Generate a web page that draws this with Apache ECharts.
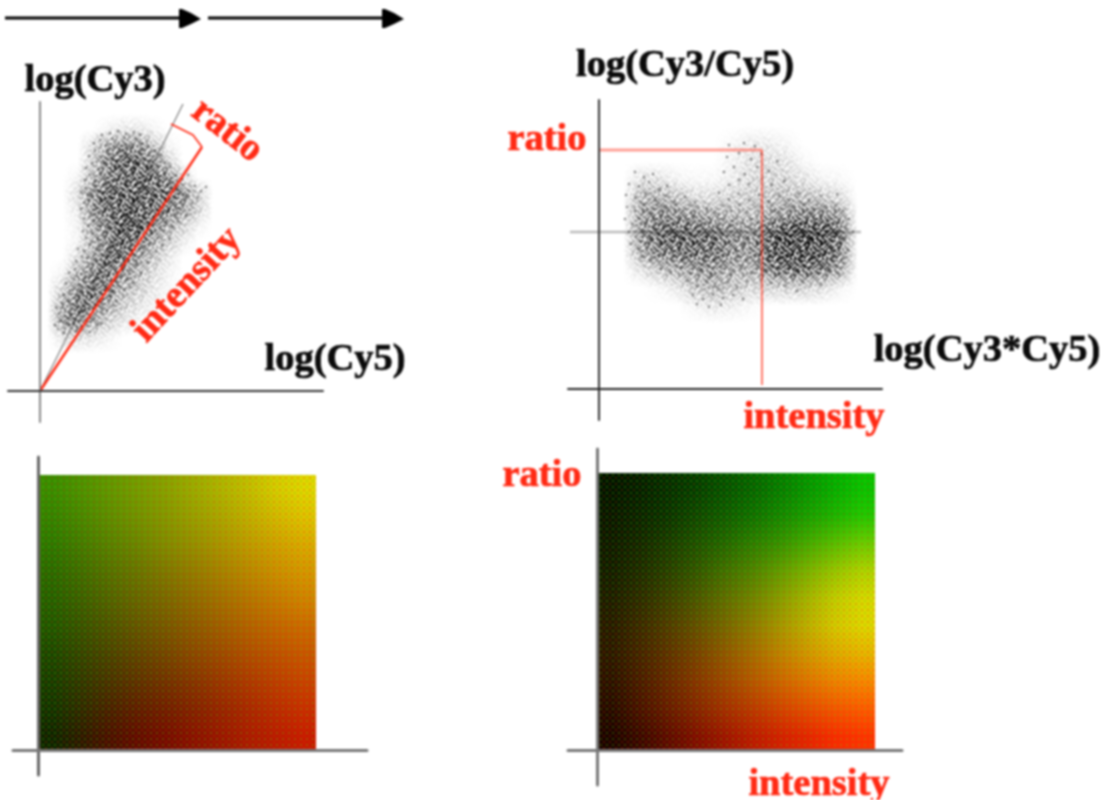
<!DOCTYPE html>
<html><head><meta charset="utf-8">
<style>html,body{margin:0;background:#fff}#c{width:1105px;height:800px;filter:blur(.8px)}</style>
<script src="https://cdn.jsdelivr.net/npm/echarts@6/dist/echarts.min.js"></script></head><body><div id="c"></div>
<script>
const cy5Cy3Cloud=[[18,62],[24,58],[30,66],[36,60],[42,64],[50,59],[57,66],[21,70],[28,72],[34,68],[40,74],[47,70],[54,72],[62,68],[15,66],[19,78],[25,82],[31,76],[37,84],[43,79],[49,86],[55,77],[61,83],[67,80],[73,86],[22,88],[28,90],[34,86],[40,92],[46,88],[52,94],[58,90],[64,92],[70,95],[76,90],[16,84],[24,96],[30,100],[36,97],[42,103],[48,98],[54,105],[60,99],[66,104],[72,100],[78,106],[84,101],[90,104],[26,108],[33,112],[39,106],[45,113],[51,109],[57,114],[63,110],[69,116],[75,111],[81,115],[87,112],[93,108],[29,118],[35,122],[41,117],[47,124],[53,119],[59,126],[65,120],[71,125],[77,118],[83,123],[89,120],[95,126],[101,118],[36,130],[42,134],[48,128],[54,136],[60,131],[66,137],[72,129],[78,135],[84,130],[90,136],[96,131],[102,137],[108,128],[44,140],[50,146],[56,141],[62,147],[68,139],[74,145],[80,140],[86,147],[92,141],[98,146],[104,142],[110,148],[116,140],[122,146],[38,142],[46,153],[52,158],[58,152],[64,159],[70,151],[76,157],[82,150],[88,158],[94,153],[100,159],[106,152],[112,157],[118,153],[124,159],[130,152],[43,160],[48,165],[54,170],[60,164],[66,171],[72,163],[78,169],[84,162],[90,170],[96,164],[102,171],[108,165],[114,170],[120,164],[126,169],[132,165],[138,170],[44,172],[50,178],[56,182],[62,176],[68,183],[74,175],[80,181],[86,174],[92,182],[98,176],[104,183],[110,177],[116,182],[122,176],[128,181],[134,177],[140,182],[146,176],[41,182],[44,188],[49,191],[54,186],[59,193],[64,187],[69,194],[74,188],[79,195],[84,186],[89,193],[94,187],[99,194],[104,189],[110,193],[116,188],[122,194],[128,189],[134,194],[140,188],[146,193],[152,188],[158,194],[41,199],[46,203],[51,198],[56,205],[61,200],[66,206],[71,199],[76,204],[81,198],[86,206],[91,200],[96,205],[101,199],[107,204],[113,200],[119,206],[125,199],[131,204],[137,201],[143,206],[149,200],[155,205],[161,200],[166,204],[45,211],[50,216],[55,210],[60,217],[65,212],[70,218],[75,211],[80,216],[85,210],[90,217],[95,212],[100,218],[106,211],[112,216],[118,212],[124,217],[130,211],[136,216],[142,212],[148,216],[46,223],[52,228],[58,222],[64,229],[70,223],[76,230],[82,222],[88,228],[94,223],[100,229],[106,224],[112,229],[118,223],[124,228],[130,224],[49,235],[55,240],[61,234],[67,241],[73,235],[79,242],[85,234],[91,240],[97,235],[103,241],[109,235],[115,240],[121,236],[54,248],[60,251],[66,246],[72,252],[78,247],[84,253],[90,246],[96,252],[102,248],[108,245],[70,258],[78,260],[86,257],[94,259],[100,256],[62,256],
[30,74],[38,80],[45,83],[33,93],[43,96],[55,101],[38,114],[50,115],[61,118],[48,133],[57,129],[68,126],[75,132],[53,149],[60,144],[71,148],[79,153],[90,150],[58,166],[68,167],[76,172],[88,166],[99,168],[60,190],[66,181],[72,192],[81,189],[91,184],[48,196],[54,201],[63,198],[70,204],[83,202],[94,197],[103,203],[110,186],[120,183],[64,215],[72,220],[82,212],[92,221],[103,214],[115,214],[127,205],[142,196],[67,232],[76,226],[86,238],[96,230],[108,226],[74,244],[86,245],[80,225],[90,208],[98,190],[62,155],[74,160],[84,144],[70,110],[56,86],[25,75]];
const cloudLeftDensityColumns=[7.5,22.5,37.5,52.5,67.5,82.5,97.5,112.5,127.5,142.5,157.5,172.5];
const cloudLeftDensityRows=[278,262,246,230,214,198,182,166,150,134,118,102,86,70,54,38];
const cloudLeftDensity=[[0,0,0,0,0,0,0,0,0,0,0,0],[0,0,0,0,5,10,10,5,0,0,0,0],[0,0,0,15,35,45,45,25,5,0,0,0],[0,0,0,20,50,65,60,50,20,0,0,0],[0,0,5,30,50,60,60,60,50,15,0,0],[0,0,15,45,65,60,65,60,60,45,20,0],[0,0,10,45,60,65,65,60,55,40,20,0],[0,0,5,35,50,70,70,50,35,20,5,0],[0,0,5,30,50,65,55,35,22,8,0,0],[0,0,15,35,60,60,40,25,10,0,0,0],[0,5,30,50,55,45,30,15,5,0,0,0],[0,20,45,55,50,30,20,10,3,0,0,0],[0,35,55,50,35,22,12,5,0,0,0,0],[0,40,50,35,20,10,3,0,0,0,0,0],[0,10,15,10,5,0,0,0,0,0,0,0],[0,0,0,0,0,0,0,0,0,0,0,0]];
const ratioAxisLine=[[0,0],[143,287]];
const intensityLine=[[0,0],[162,244]];
const ratioBracket=[[131,267],[153,256],[162,244]];
const cy5AxisRange=[-32,283],cy3AxisRange=[-31,289];

const intensityRatioCloud=[[36,217],[45,212],[54,215],[30,205],[40,203],[50,207],[60,200],[68,203],[27,194],[36,191],[46,196],[56,189],[66,193],[76,188],[86,192],[96,187],[120,196],[130,190],[140,195],[150,189],[160,194],[170,188],[180,193],[190,189],[200,195],[210,188],[222,193],[238,195],[130,204],[140,209],[150,205],[163,210],[173,204],[185,208],[125,217],[135,222],[146,215],[158,222],[170,218],[128,232],[140,236],[152,230],[162,235],[178,228],[130,244],[145,246],[156,243],[28,182],[36,178],[44,184],[52,176],[60,182],[68,177],[76,184],[84,178],[92,183],[100,176],[108,181],[116,177],[124,183],[132,178],[140,184],[148,177],[156,182],[164,176],[172,183],[180,177],[188,182],[196,178],[204,184],[212,176],[220,181],[228,177],[236,183],[244,178],[26,170],[33,165],[40,171],[47,164],[54,170],[61,165],[68,172],[75,164],[82,170],[89,165],[96,172],[103,166],[110,171],[117,165],[124,170],[131,164],[138,172],[145,165],[152,170],[159,166],[166,172],[173,165],[180,170],[187,164],[194,171],[201,165],[208,172],[215,166],[222,170],[229,165],[236,172],[243,166],[250,170],[30,157],[37,152],[44,158],[51,153],[58,159],[65,152],[72,158],[79,153],[86,159],[93,152],[100,157],[107,153],[114,159],[121,152],[128,157],[135,153],[142,159],[149,152],[156,158],[163,153],[170,159],[177,152],[184,157],[191,153],[198,159],[205,152],[212,157],[219,153],[226,158],[233,153],[240,159],[247,152],[254,157],[32,145],[39,140],[46,146],[53,139],[60,145],[67,140],[74,146],[81,139],[88,144],[95,140],[102,146],[109,139],[116,145],[123,140],[130,146],[137,139],[144,144],[151,140],[158,146],[165,139],[172,145],[179,140],[186,146],[193,139],[200,144],[207,140],[214,146],[221,139],[228,145],[235,140],[242,146],[249,139],[44,132],[52,128],[60,134],[68,127],[76,133],[84,128],[92,134],[100,126],[108,132],[116,128],[124,134],[132,127],[140,132],[148,128],[156,134],[164,126],[172,132],[180,127],[188,134],[196,128],[204,132],[212,126],[220,133],[228,128],[236,132],[244,126],[62,120],[72,116],[82,122],[92,115],[102,120],[112,116],[122,122],[132,115],[142,120],[152,116],[170,120],[180,115],[190,121],[200,116],[210,120],[220,115],[230,121],[238,116],[88,108],[98,103],[108,108],[118,102],[128,107],[138,102],[148,108],[172,106],[186,103],[204,108],[222,104],[198,98],[94,94],[104,90],[114,95],[124,91],[134,94],[144,90],[110,82],[122,84],[98,85],
[120,175],[112,160],[90,167],[76,150],[64,164],[52,148],[100,145],[86,135],[70,155],[140,150],[148,162],[172,170],[178,158],[186,148],[195,166],[204,158],[210,148],[218,166],[224,150],[232,142],[176,136],[190,132],[202,127],[214,134],[226,124],[165,150],[168,162],[200,175],[215,178],[228,170],[238,156],[180,120],[192,112],[206,122],[160,128],[92,176],[80,172],[70,180],[108,150],[122,158],[134,168],[184,142],[196,152],[208,165],[220,142],[228,136],[175,178],[198,124],[150,146],[60,150],[42,147],[118,140],[126,128],[104,125],[144,124],[110,112],[120,100]];
const cloudRightDensityColumns=[24,42,60,78,96,114,132,150,168,186,204,222,240,258];
const cloudRightDensityRows=[264,246,228,210,192,174,156,138,120,102,84,66];
const cloudRightDensity=[[0,0,0,0,0,0,0,0,0,0,0,0,0,0],[0,0,0,0,0,0,3,8,8,4,0,0,0,0],[0,0,0,0,0,0,5,12,15,12,3,0,0,0],[0,12,12,5,3,3,8,15,18,18,12,5,3,0],[0,32,32,25,15,15,18,20,25,28,28,22,15,0],[0,42,50,45,42,35,30,28,35,45,50,50,42,0],[0,42,60,65,62,58,48,42,60,78,80,78,60,0],[0,38,55,60,62,58,48,42,65,80,80,72,55,0],[0,12,25,35,42,45,35,32,52,60,62,55,40,0],[0,0,3,10,25,30,25,18,18,20,20,15,5,0],[0,0,0,0,5,10,8,3,0,0,0,0,0,0],[0,0,0,0,0,0,0,0,0,0,0,0,0,0]];
const ratioGuide=[[-29,157],[262,157]];
const ratioMarkerHorizontal=[[1,239],[163,239]];
const intensityMarkerVertical=[[163,239],[163,4]];
const intensityAxisRange=[-31,283],logRatioAxisRange=[-31,289];

const bottomRowsLeftRed=[[55,75,95,115,135,155,175,195,215,225],[50,70,92,112,132,152,172,192,212,225],[42,65,85,105,128,148,170,190,208,220],[40,60,82,102,125,146,166,186,204,215],[35,56,78,100,120,142,162,182,198,210],[30,52,74,96,116,138,158,178,195,205],[25,48,70,92,112,135,155,175,190,200],[20,44,68,90,110,130,152,172,188,200],[15,42,68,92,110,128,148,168,186,200],[12,40,70,95,115,135,152,170,185,200]];
const bottomRowsLeftGreen=[[140,145,150,155,160,170,180,190,205,215],[130,135,140,145,150,158,165,175,185,195],[120,122,128,132,138,142,148,155,162,170],[105,108,112,115,118,122,128,135,142,150],[95,95,98,100,102,105,110,115,122,130],[85,82,82,84,86,88,92,96,100,105],[70,68,66,66,68,70,72,76,80,85],[60,55,50,48,48,50,52,55,60,65],[50,42,32,28,28,32,35,38,42,45],[35,25,15,10,10,15,20,25,25,25]];
const bottomRowsRightRed=[[0,0,0,0,0,0,0,0,0,5],[5,5,5,10,10,10,15,20,25,30],[10,15,20,25,30,40,50,65,85,105],[15,25,35,45,60,75,95,120,150,175],[25,40,55,70,90,110,135,165,195,215],[35,55,75,95,115,140,165,190,215,225],[40,65,90,115,140,165,190,210,225,235],[40,70,100,130,155,180,205,225,240,250],[35,70,100,130,160,185,210,230,245,255],[25,55,90,125,155,185,210,230,250,255]];
const bottomRowsRightGreen=[[20,30,45,60,80,100,125,150,175,195],[22,35,50,70,90,112,135,158,180,200],[25,38,58,80,102,125,145,170,190,205],[28,42,62,85,110,130,155,178,198,212],[28,42,62,85,108,130,155,180,205,218],[25,40,58,78,100,122,148,175,200,215],[22,34,48,65,85,105,128,150,170,180],[15,25,38,52,68,85,100,115,130,135],[8,15,25,35,45,55,65,75,85,90],[2,5,8,12,18,25,30,35,42,50]];
const leftFieldSize=[278,275],rightFieldSize=[278,277];
const arrowShafts=[[5,18,182],[208,18,385]];
const grainTile=["0728419360571824","5193062847139506","8405716293048271","2961384057926143","7036291845063819","1584970326718452","9273506148392067","4610827593140785","3857142069653921","6092738415207148","1748360952871036","8325917046395682","0469285731604917","7513046982751340","2986153470268195","5140679328419763"];

const RED='#ff2a14',BLACK='#0a0a0a';
const chart=echarts.init(document.getElementById('c'),null,{renderer:'canvas'});
const dither=document.createElement('canvas');dither.width=dither.height=6;
(()=>{const g=dither.getContext('2d');
 g.fillStyle='rgba(110,190,0,.34)';g.fillRect(0,0,2,2);
 g.fillStyle='rgba(210,60,0,.30)';g.fillRect(3,3,2,2);})();
function tableImage(rows,cols,pick){
  const c=document.createElement('canvas');c.width=cols;c.height=rows;
  const g=c.getContext('2d'),d=g.createImageData(cols,rows);
  for(let i=0;i<rows;i++)for(let j=0;j<cols;j++){const v=pick(i,j),k=(i*cols+j)*4;d.data[k]=v[0];d.data[k+1]=v[1];d.data[k+2]=v[2];d.data[k+3]=v[3];}
  g.putImageData(d,0,0);return c;
}
function grainImage(small,w,h){
  const c=document.createElement('canvas');c.width=Math.round(w);c.height=Math.round(h);
  const g=c.getContext('2d');g.imageSmoothingEnabled=true;g.drawImage(small,0,0,c.width,c.height);
  const d=g.getImageData(0,0,c.width,c.height);
  for(let y=0;y<c.height;y++)for(let x=0;x<c.width;x++){
    const tx=((x>>1)+Math.floor(y/32)*7)%16,ty=(y>>1)%16;
    const k=(y*c.width+x)*4;d.data[k+3]=Math.min(255,d.data[k+3]*(+grainTile[ty][tx])/5.4);
  }
  g.putImageData(d,0,0);return c;
}
function cellRect(x0,y0,x1,y1,api){const a=api.coord([x0,y1]),b=api.coord([x1,y0]);return {x:a[0],y:a[1],width:b[0]-a[0],height:b[1]-a[1]}}
function fieldSeries(idx,reds,greens,size){
  const img=tableImage(reds.length,reds[0].length,(i,j)=>[reds[i][j],greens[i][j],0,255]);
  return {type:'custom',xAxisIndex:idx,yAxisIndex:idx,silent:true,clip:false,z:1,data:[[0,0]],
    renderItem(p,api){const s=cellRect(0,0,size[0],size[1],api);
      return {type:'group',children:[{type:'image',style:{image:img,x:s.x,y:s.y,width:s.width,height:s.height}},
        {type:'rect',shape:s,style:{fill:{image:dither,repeat:'repeat'}}}]}}};
}
function densitySeries(idx,cols,rows,table){
  const small=tableImage(rows.length,cols.length,(i,j)=>[0,0,0,Math.round(table[i][j]*2.55)]);
  const dx=cols[1]-cols[0],dy=rows[0]-rows[1];let img=null;
  return {type:'custom',xAxisIndex:idx,yAxisIndex:idx,silent:true,clip:false,z:3,data:[[0,0]],
    renderItem(p,api){const s=cellRect(cols[0]-dx/2,rows[rows.length-1]-dy/2,cols[cols.length-1]+dx/2,rows[0]+dy/2,api);
      img=img||grainImage(small,s.width,s.height);
      return {type:'image',style:{image:img,x:s.x,y:s.y,width:s.width,height:s.height}}}};
}
function polyline(idx,data,color,width,z,opacity){return {type:'line',xAxisIndex:idx,yAxisIndex:idx,data,symbol:'none',silent:true,z,lineStyle:{color,width,opacity:opacity==null?1:opacity},clip:false}}
function cloud(idx,data){return {type:'scatter',xAxisIndex:idx,yAxisIndex:idx,data,symbolSize:2.4,silent:true,z:4,itemStyle:{color:'#000',opacity:.5}}}
function axes(gridIndex,xr,yr,xc,yc,w){
  const common={type:'value',gridIndex,z:9,splitLine:{show:false},axisTick:{show:false},axisLabel:{show:false}};
  return {x:{...common,min:xr[0],max:xr[1],axisLine:{show:true,onZero:true,lineStyle:{color:xc,width:w}}},
          y:{...common,min:yr[0],max:yr[1],axisLine:{show:true,onZero:true,lineStyle:{color:yc,width:w}}}};
}
const A=[axes(0,cy5AxisRange,cy3AxisRange,'#333','#888',2),
 axes(1,intensityAxisRange,logRatioAxisRange,'#222','#333',2),
 axes(2,[-25,329],[-25,293],'#777','#666',3),
 axes(3,[-29,305],[-35,301],'#777','#777',3)];
function txt(t,x,y,color,rot){return {type:'text',x,y,rotation:(rot||0)*Math.PI/180,z:20,style:{text:t,fill:color,stroke:color,lineWidth:.7,font:'bold 38.5px "Liberation Serif"',align:'center',verticalAlign:'middle'}}}
function head(x){return {type:'polygon',shape:{points:[[x,9],[x+3,9],[x+12,13],[x+22,19],[x+12,24],[x+3,28],[x,28]]},style:{fill:'#000'}}}
chart.setOption({animation:false,backgroundColor:'#fff',
 grid:[{left:8,top:102,width:315,height:320},{left:568,top:100,width:314,height:320},{left:13,top:457,width:354,height:318},{left:568,top:449,width:334,height:336}],
 xAxis:A.map(a=>a.x),yAxis:A.map(a=>a.y),
 series:[
  polyline(0,ratioAxisLine,'#555',1,2),
  densitySeries(0,cloudLeftDensityColumns,cloudLeftDensityRows,cloudLeftDensity),
  cloud(0,cy5Cy3Cloud),
  polyline(0,intensityLine,RED,2.4,5),
  polyline(0,ratioBracket,RED,1.6,5),
  polyline(1,ratioGuide,'#bbb',2.4,2),
  densitySeries(1,cloudRightDensityColumns,cloudRightDensityRows,cloudRightDensity),
  cloud(1,intensityRatioCloud),
  polyline(1,ratioMarkerHorizontal,RED,3,5,.45),
  polyline(1,intensityMarkerVertical,RED,1.6,5,.8),
  fieldSeries(2,bottomRowsLeftRed,bottomRowsLeftGreen,leftFieldSize),
  fieldSeries(3,bottomRowsRightRed,bottomRowsRightGreen,rightFieldSize)
 ],
 graphic:[
  ...arrowShafts.map(a=>({type:'line',shape:{x1:a[0],y1:a[1],x2:a[2],y2:a[1]},style:{stroke:'#000',lineWidth:3}})),
  head(arrowShafts[0][2]-3),head(arrowShafts[1][2]-3),
  txt('log(Cy3)',95,81,BLACK),txt('log(Cy5)',335,360,BLACK),
  txt('log(Cy3/Cy5)',685,66,BLACK),txt('log(Cy3*Cy5)',987,351,BLACK),
  txt('ratio',227,131,RED,-38),txt('intensity',187,285,RED,47),
  txt('ratio',547,140,RED),txt('intensity',814,418,RED),
  txt('ratio',542,476,RED),txt('intensity',819,785,RED)
 ]});
</script></body></html>
